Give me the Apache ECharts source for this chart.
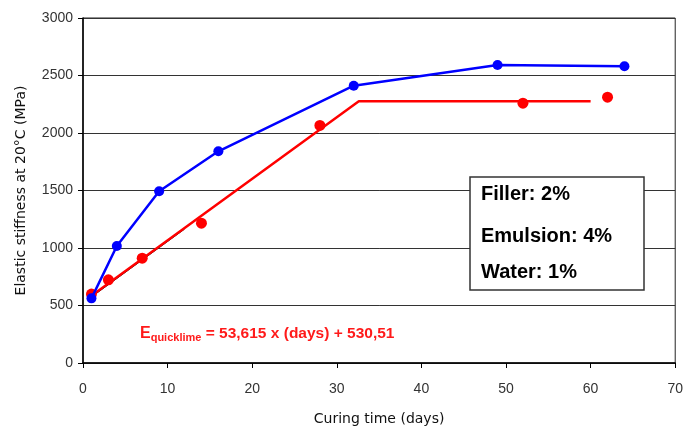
<!DOCTYPE html>
<html><head><meta charset="utf-8">
<script src="https://cdn.jsdelivr.net/npm/echarts@6/dist/echarts.min.js"></script>
<style>html,body{margin:0;padding:0;background:#fff}#c{width:686px;height:431px}</style>
</head><body><div id="c"></div>
<script>
var xTicks = [0, 10, 20, 30, 40, 50, 60, 70];
var yTicks = [0, 500, 1000, 1500, 2000, 2500, 3000];
var blueX = [1, 4, 9, 16, 32, 49, 64];
var blueY = [562, 1018, 1494, 1841, 2411, 2591, 2581];
var redX = [1, 3, 7, 14, 28, 52, 62];
var redY = [599, 723, 911, 1216, 2066, 2259, 2311];
var modelX = [1, 32.6, 60];
var modelY = [584, 2277, 2277];
var trendX = [1, 12];
var trendY = [574, 1164];
var boxLines = ["Filler: 2%", "Emulsion: 4%", "Water: 1%"];

function pairs(xs, ys){ return xs.map(function(x,i){ return [x, ys[i]]; }); }

var chart = echarts.init(document.getElementById('c'), null, {renderer:'canvas'});
chart.setOption({
  animation:false,
  backgroundColor:'#fff',
  grid:{left:83, right:10, top:18, bottom:66, show:true, borderColor:'#222', borderWidth:1},
  xAxis:{
    type:'value', min:xTicks[0], max:xTicks[xTicks.length-1], interval:10,
    name:'Curing time (days)', nameLocation:'middle', nameGap:49,
    nameTextStyle:{fontFamily:'DejaVu Sans', fontSize:14, color:'#111'},
    axisLine:{show:true, onZero:false, lineStyle:{color:'#000', width:1.5}},
    axisTick:{show:true, inside:false, length:5, lineStyle:{color:'#000'}},
    axisLabel:{margin:19, fontFamily:'Liberation Sans', fontSize:14, color:'#333', formatter:function(v){return String(v);}},
    splitLine:{show:false}
  },
  yAxis:{
    type:'value', min:yTicks[0], max:yTicks[yTicks.length-1], interval:500,
    name:'Elastic stiffness at 20°C (MPa)', nameLocation:'middle', nameGap:55,
    nameTextStyle:{fontFamily:'DejaVu Sans', fontSize:14, color:'#111'},
    axisLine:{show:true, lineStyle:{color:'#000', width:1.5}},
    axisTick:{show:true, length:5, lineStyle:{color:'#000'}},
    axisLabel:{margin:10, fontFamily:'Liberation Sans', fontSize:14, color:'#333', formatter:function(v){return String(v);}},
    splitLine:{show:true, lineStyle:{color:'#333', width:1}}
  },
  series:[
    {type:'line', data:pairs(trendX, trendY), symbol:'none', lineStyle:{color:'#000', width:1}, z:2, silent:true},
    {type:'line', data:pairs(modelX, modelY), symbol:'none', lineStyle:{color:'#ff0000', width:2.5}, z:3, silent:true},
    {type:'scatter', data:pairs(redX, redY), symbol:'circle', symbolSize:11, itemStyle:{color:'#ff0000', opacity:1}, z:4},
    {type:'line', data:pairs(blueX, blueY), symbol:'circle', symbolSize:10, showSymbol:true,
     lineStyle:{color:'#0000ff', width:2.5}, itemStyle:{color:'#0000ff', opacity:1}, z:5}
  ],
  graphic:[
    {type:'rect', shape:{x:470, y:177, width:174, height:113}, style:{fill:'#fff', stroke:'#333', lineWidth:1.5}, z:100},
    {type:'text', x:481, y:194, style:{text:boxLines[0], font:'bold 20px "Liberation Sans"', fill:'#000', textVerticalAlign:'middle'}, z:101},
    {type:'text', x:481, y:236, style:{text:boxLines[1], font:'bold 20px "Liberation Sans"', fill:'#000', textVerticalAlign:'middle'}, z:101},
    {type:'text', x:481, y:272, style:{text:boxLines[2], font:'bold 20px "Liberation Sans"', fill:'#000', textVerticalAlign:'middle'}, z:101},
    {type:'text', x:140, y:334, z:101, style:{
      text:'{e|E}{s|quicklime}{t| = 53,615 x (days) + 530,51}',
      verticalAlign:'middle',
      rich:{
        e:{fontFamily:'Liberation Sans', fontSize:16, fontWeight:'bold', fill:'#ff1a1a'},
        s:{fontFamily:'Liberation Sans', fontSize:11, fontWeight:'bold', fill:'#ff1a1a', padding:[8,0,0,0]},
        t:{fontFamily:'Liberation Sans', fontSize:15.5, fontWeight:'bold', fill:'#ff1a1a'}
      }}}
  ]
});
</script></body></html>
